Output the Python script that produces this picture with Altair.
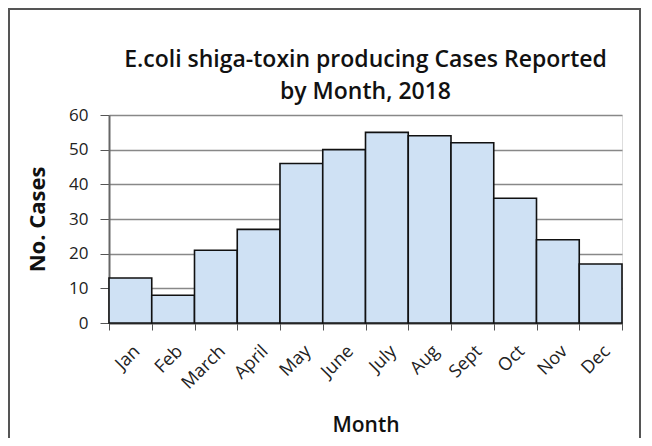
import altair as alt
import pandas as pd

months = ["Jan", "Feb", "March", "April", "May", "June", "July", "Aug", "Sept", "Oct", "Nov", "Dec"]
cases = [13, 8, 21, 27, 46, 50, 55, 54, 52, 36, 24, 17]
y_ticks = [0, 10, 20, 30, 40, 50, 60]

df = pd.DataFrame({"Month": months, "Cases": cases})

FONT = "Open Sans"

bars = alt.Chart(df).mark_bar(
    fill="#cfe1f4", stroke="#111111", strokeWidth=1.6
).encode(
    x=alt.X("Month:N", sort=months,
            scale=alt.Scale(paddingInner=0, paddingOuter=0),
            axis=alt.Axis(title="Month", labelAngle=-45, labelFontSize=18,
                          labelColor="#222222", labelFont=FONT,
                          titleFont=FONT, titleFontSize=21, titleFontWeight=600,
                          titleColor="#111111", titlePadding=22,
                          tickBand="extent", ticks=True, tickSize=7,
                          tickColor="#555555", domainColor="#666666",
                          domainWidth=2, grid=False, labelPadding=12)),
    y=alt.Y("Cases:Q", scale=alt.Scale(domain=[0, 60]),
            axis=alt.Axis(title="No. Cases", values=y_ticks, labelFontSize=17,
                          labelColor="#222222", labelFont=FONT,
                          titleFont=FONT, titleFontSize=22, titleFontWeight="bold",
                          titleColor="#111111", titlePadding=19,
                          tickSize=9, tickColor="#555555",
                          domainColor="#666666", domainWidth=2,
                          grid=True, gridColor="#888888", gridWidth=1.5,
                          labelPadding=12))
)

frame = alt.Chart(df).mark_rect(
    fill=None, stroke="#555555", strokeWidth=2
).encode(
    x=alt.value(-100), x2=alt.value(531),
    y=alt.value(-106), y2=alt.value(340)
)

chart = alt.layer(frame, bars).properties(
    width=513, height=208,
    autosize=alt.AutoSizeParams(type="none"),
    padding={"left": 101, "top": 107, "right": 22, "bottom": 115},
    title=alt.TitleParams(
        text=["E.coli shiga-toxin producing Cases Reported", "by Month, 2018"],
        font=FONT, fontSize=23, fontWeight=600, color="#111111",
        lineHeight=32, anchor="middle", offset=12, dy=108, frame="group"
    )
).configure_view(stroke=None).configure(background="white")

chart.save("out.html", embed_options={"renderer": "svg", "actions": False})
